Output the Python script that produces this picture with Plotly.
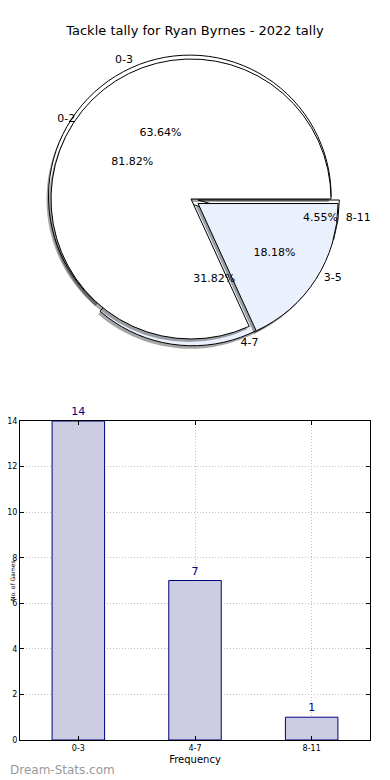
import plotly.graph_objects as go

# ---- data ----
pie1_labels = ["0-3", "4-7", "8-11"]
pie1_values = [14, 7, 1]
pie2_labels = ["0-2", "3-5"]
pie2_values = [18, 4]
bar_categories = ["0-3", "4-7", "8-11"]
bar_values = [14, 7, 1]
y_ticks = [0, 2, 4, 6, 8, 10, 12, 14]

# the page body adds an 8px offset, so the figure is drawn 8px smaller
OFF = 8
W, H = 390 - OFF, 780 - OFF
FONT = "DejaVu Sans"
LB = "#ebf1fc"
WHITE = "#ffffff"
CLEAR = "rgba(0,0,0,0)"

def sx(p):  # screen x pixel -> paper fraction
    return (p - OFF) / W

def sy(p):  # screen y pixel (from top) -> paper fraction
    return 1 - (p - OFF) / H

def px_dom(x0, x1, y0, y1):
    return dict(x=[sx(x0), sx(x1)], y=[sy(y1), sy(y0)])

def shifted(d, dx, dy):
    return dict(x=[d["x"][0] + dx / W, d["x"][1] + dx / W],
                y=[d["y"][0] - dy / H, d["y"][1] - dy / H])

fig = go.Figure()

# slices laid out counter-clockwise from 3 o'clock (matplotlib style):
# feed plotly reversed order, clockwise from 3 o'clock.
pie_common = dict(sort=False, direction="clockwise", rotation=90,
                  showlegend=False, hoverinfo="skip")

pie_dom = px_dom(42.6, 339.4, 50.6, 347.4)
label_dom = px_dom(48, 344, 48, 344)
pull1 = [0.02, 0.04, 0.05]
pull2 = [0.0, 0.06]

def rev(a):
    return list(a)[::-1]

pies = [(pie1_labels, pie1_values, pull1, [WHITE, LB, WHITE]),
        (pie2_labels, pie2_values, pull2, [WHITE, LB])]

# shadows and filled wedges
for labs, vals, pl, cols in pies:
    n = len(labs)
    fig.add_trace(go.Pie(labels=rev(labs), values=rev(vals), domain=shifted(pie_dom, -2, 3),
                         pull=rev(pl), marker=dict(colors=["rgba(0,0,0,0.35)"] * n, line=dict(width=0)),
                         textinfo="none", **pie_common))
    fig.add_trace(go.Pie(labels=rev(labs), values=rev(vals), domain=pie_dom, pull=rev(pl),
                         marker=dict(colors=rev(cols), line=dict(color="black", width=1)),
                         textinfo="none", **pie_common))

# percentage texts on top
for labs, vals, pl, cols in pies:
    n = len(labs)
    fig.add_trace(go.Pie(labels=rev(labs), values=rev(vals), domain=pie_dom, pull=rev(pl),
                         marker=dict(colors=[CLEAR] * n, line=dict(width=0)),
                         texttemplate="%{percent:.2%}", textposition="inside",
                         insidetextorientation="horizontal",
                         textfont=dict(family=FONT, size=11, color="black"), **pie_common))

# outside category labels
for labs, vals, pl, cols in pies:
    n = len(labs)
    fig.add_trace(go.Pie(labels=rev(labs), values=rev(vals), domain=label_dom, pull=rev(pl),
                         marker=dict(colors=[CLEAR] * n, line=dict(width=0)),
                         texttemplate="%{label}", textposition="outside",
                         textfont=dict(family=FONT, size=11, color="black"), **pie_common))

# bar chart
fig.add_trace(go.Bar(x=bar_categories, y=bar_values, width=0.45,
                     marker=dict(color="#ccccE3", line=dict(color="#000080", width=1)),
                     text=[str(v) for v in bar_values], textposition="outside",
                     textfont=dict(family=FONT, size=11, color="#000080"),
                     cliponaxis=False, showlegend=False, hoverinfo="skip"))

axis_common = dict(showline=True, linecolor="black", linewidth=1, mirror="ticks",
                   ticks="inside", ticklen=4, tickcolor="black", automargin=False,
                   showgrid=True, gridcolor="#c0c0c0", griddash="1px,2px", gridwidth=1,
                   zeroline=False, tickfont=dict(family=FONT, size=8, color="black"))

fig.update_layout(
    width=W, height=H, margin=dict(l=0, r=0, t=0, b=0, pad=0, autoexpand=False),
    paper_bgcolor="white", plot_bgcolor="white",
    uniformtext=dict(mode="show", minsize=11),
    title=dict(text="Tackle tally for Ryan Byrnes - 2022 tally", x=sx(195), xanchor="center",
               y=sy(30), yanchor="middle", font=dict(family=FONT, size=13, color="black")),
    xaxis=dict(domain=[sx(20), sx(370)], range=[-0.5, 2.5], type="category",
               title=dict(text="Frequency", font=dict(family=FONT, size=10, color="black"), standoff=4),
               **axis_common),
    yaxis=dict(domain=[sy(740), sy(421)], range=[0, 14], tickvals=y_ticks,
               **axis_common),
    annotations=[
        dict(text="Dream-Stats.com", x=sx(8), y=sy(770), xref="paper", yref="paper",
             xanchor="left", yanchor="middle", showarrow=False,
             font=dict(family="DejaVu Sans", size=12, color="#9a9a9a")),
        dict(text="No. of Games", x=sx(12), y=sy(581), xref="paper", yref="paper",
             xanchor="center", yanchor="middle", showarrow=False, textangle=-90,
             font=dict(family=FONT, size=6, color="black")),
    ],
)

fig.write_html("out.html")
